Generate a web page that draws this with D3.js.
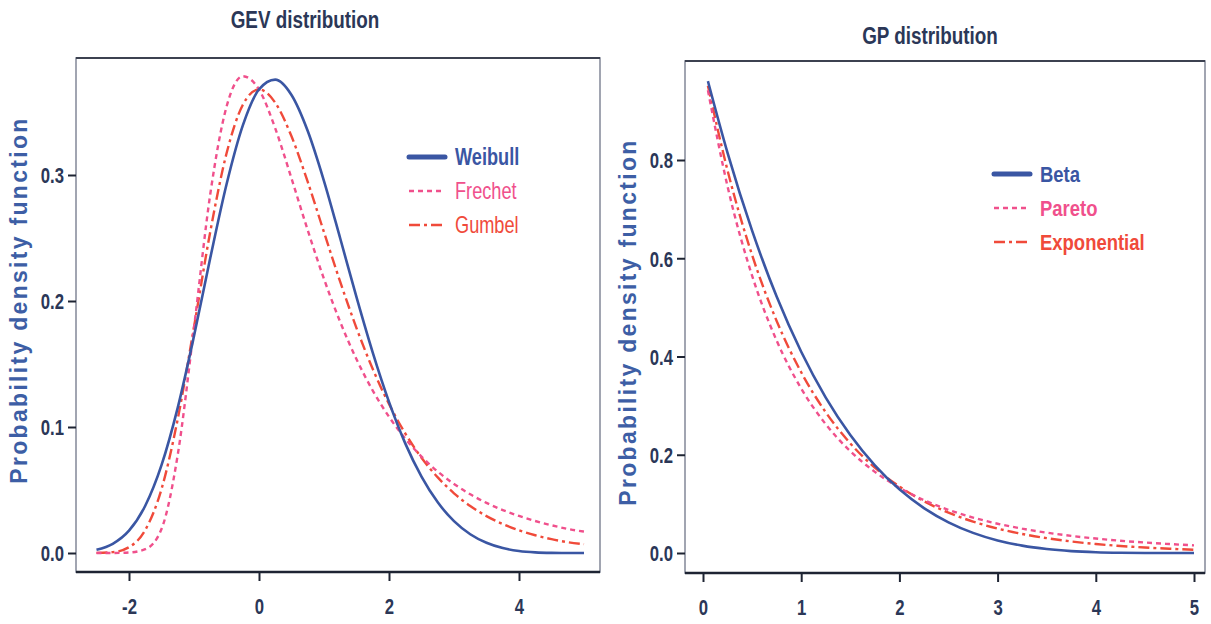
<!DOCTYPE html>
<html>
<head>
<meta charset="utf-8">
<script src="https://cdn.jsdelivr.net/npm/d3@7"></script>
<style>
  html, body { margin: 0; padding: 0; background: #ffffff; }
  svg { display: block; }
  text { font-family: "Liberation Sans", Arial, sans-serif; }
</style>
</head>
<body>
<svg id="chart" width="1211" height="624"></svg>
<script>
// ---- GEV densities (standardised), sampled on x = -2.5 .. 5 by 0.25 ----
const gevX = [-2.5, -2.25, -2, -1.75, -1.5, -1.25, -1, -0.75, -0.5, -0.25, 0, 0.25, 0.5, 0.75, 1,
              1.25, 1.5, 1.75, 2, 2.25, 2.5, 2.75, 3, 3.25, 3.5, 3.75, 4, 4.25, 4.5, 4.75, 5];
const weibull = [0.0026, 0.0073, 0.0177, 0.0375, 0.0697, 0.1154, 0.1722, 0.2341, 0.2925, 0.3392, 0.3679,
                 0.3757, 0.3635, 0.3349, 0.2952, 0.2496, 0.2030, 0.1590, 0.1199, 0.0870, 0.0606, 0.0402,
                 0.0253, 0.0149, 0.0081, 0.0039, 0.0016, 0.0005, 0.0001, 0.0000, 0.0000];
const frechet = [0.0000, 0.0000, 0.0004, 0.0030, 0.0190, 0.0780, 0.1787, 0.2847, 0.3541, 0.3784, 0.3679,
                 0.3370, 0.2973, 0.2561, 0.2175, 0.1833, 0.1538, 0.1289, 0.1081, 0.0908, 0.0765, 0.0646,
                 0.0548, 0.0466, 0.0398, 0.0341, 0.0294, 0.0254, 0.0220, 0.0191, 0.0170];
const gumbel = [0.0001, 0.0007, 0.0046, 0.0182, 0.0507, 0.1064, 0.1794, 0.2549, 0.3170, 0.3556, 0.3679,
                0.3574, 0.3307, 0.2945, 0.2546, 0.2151, 0.1785, 0.1460, 0.1182, 0.0949, 0.0756, 0.0600,
                0.0474, 0.0373, 0.0293, 0.0230, 0.0180, 0.0141, 0.0110, 0.0086, 0.0070];

// ---- GP densities, sampled on x = 0.05 .. 5 ----
const gpX = [0.05, 0.25, 0.5, 0.75, 1, 1.25, 1.5, 1.75, 2, 2.25, 2.5, 2.75, 3, 3.25, 3.5, 3.75, 4, 4.25, 4.5, 4.75, 5];
const beta = [0.9606, 0.8145, 0.6561, 0.5220, 0.4096, 0.3164, 0.2401, 0.1785, 0.1296, 0.0915, 0.0625,
              0.0410, 0.0256, 0.0150, 0.0081, 0.0039, 0.0016, 0.0005, 0.0001, 0.0000, 0.0000];
const pareto = [0.9420, 0.7462, 0.5645, 0.4323, 0.3349, 0.2621, 0.2072, 0.1652, 0.1328, 0.1076, 0.0878,
                0.0721, 0.0596, 0.0496, 0.0414, 0.0348, 0.0294, 0.0249, 0.0213, 0.0182, 0.0156];
const exponential = [0.9512, 0.7788, 0.6065, 0.4724, 0.3679, 0.2865, 0.2231, 0.1738, 0.1353, 0.1054, 0.0821,
                     0.0639, 0.0498, 0.0388, 0.0302, 0.0235, 0.0183, 0.0143, 0.0111, 0.0087, 0.0067];

// ---- axis ticks and labels ----
const gevXTicks = [-2, 0, 2, 4];
const gevYTicks = [0, 0.1, 0.2, 0.3];
const gpXTicks = [0, 1, 2, 3, 4, 5];
const gpYTicks = [0, 0.2, 0.4, 0.6, 0.8];
const gevTitle = "GEV distribution";
const gpTitle = "GP distribution";
const yLabel = "Probability density function";
const gevNames = ["Weibull", "Frechet", "Gumbel"];
const gpNames = ["Beta", "Pareto", "Exponential"];

const BLUE = "#3a56a3", PINK = "#f0508c", RED = "#f04a3a", NAVY = "#2b3757", AXIS_LABEL = "#3d5ea5";
const NARROW = 0.79; // horizontal squeeze for the condensed lettering

const styles = [
  { color: BLUE, width: 2.6, dash: null, legendWidth: 5, weight: "bold" },
  { color: PINK, width: 2.4, dash: "5,4", legendWidth: 2.4, weight: "normal" },
  { color: RED, width: 2.4, dash: "11,4,3,4", legendWidth: 2.4, weight: "normal" }
];

const svg = d3.select("#chart");

// condensed text: a translated group squeezed horizontally
function narrowText(parent, x, y, str, opts) {
  const g = parent.append("g")
    .attr("transform", `translate(${x},${y}) scale(${opts.sx || NARROW},1)`);
  return g.append("text")
    .attr("text-anchor", opts.anchor || "start")
    .attr("dy", opts.dy || 0)
    .attr("font-size", opts.size)
    .attr("font-weight", opts.weight || "bold")
    .attr("fill", opts.fill)
    .text(str);
}

function panel(cfg) {
  const g = svg.append("g");
  const x = d3.scaleLinear().domain(cfg.xDomain).range(cfg.xRange);
  const y = d3.scaleLinear().domain(cfg.yDomain).range(cfg.yRange);

  // plot frame
  g.append("rect")
    .attr("x", cfg.frame.left).attr("y", cfg.frame.top)
    .attr("width", cfg.frame.right - cfg.frame.left)
    .attr("height", cfg.frame.bottom - cfg.frame.top)
    .attr("fill", "none").attr("stroke", "#8a8f9e").attr("stroke-width", 1.6);
  g.append("line")
    .attr("x1", cfg.frame.left).attr("x2", cfg.frame.right)
    .attr("y1", cfg.frame.top).attr("y2", cfg.frame.top)
    .attr("stroke", "#3c4150").attr("stroke-width", 2);

  // x axis along the bottom of the frame
  const xAxis = d3.axisBottom(x).tickValues(cfg.xTicks).tickSize(9).tickSizeOuter(0);
  const gx = g.append("g").attr("transform", `translate(0,${cfg.frame.bottom})`).call(xAxis);
  gx.select(".domain").attr("d", `M${cfg.frame.left},0H${cfg.frame.right}`)
    .attr("stroke", "#1e2433").attr("stroke-width", 2.6);
  gx.selectAll(".tick line").attr("stroke", "#1e2433").attr("stroke-width", 2);
  gx.selectAll(".tick text").remove();
  gx.selectAll(".tick").each(function (d) {
    narrowText(d3.select(this), 0, 42, d < 0 ? "-" + Math.abs(d) : String(d),
      { size: 22, anchor: "middle", fill: NAVY, sx: 0.76 });
  });

  // y axis: ticks only, on the left side of the frame
  const yAxis = d3.axisLeft(y).tickValues(cfg.yTicks).tickSize(8).tickSizeOuter(0);
  const gy = g.append("g").attr("transform", `translate(${cfg.frame.left},0)`).call(yAxis);
  gy.select(".domain").remove();
  gy.selectAll(".tick line").attr("stroke", "#1e2433").attr("stroke-width", 2);
  gy.selectAll(".tick text").remove();
  const fmt = d3.format(".1f");
  gy.selectAll(".tick").each(function (d) {
    narrowText(d3.select(this), -12, 0, fmt(d),
      { size: 22, anchor: "end", dy: "0.36em", fill: NAVY, sx: 0.76 });
  });

  // title
  narrowText(g, cfg.title.x, cfg.title.y, cfg.title.text,
    { size: 23, anchor: "middle", fill: NAVY, sx: 0.82 });

  // y axis label
  g.append("text")
    .attr("transform", `translate(${cfg.ylab.x},${cfg.ylab.y}) rotate(-90)`)
    .attr("text-anchor", "middle")
    .attr("font-size", 23).attr("font-weight", "bold").attr("letter-spacing", 2.3)
    .attr("fill", AXIS_LABEL).text(yLabel);

  // density curves
  const line = d3.line().x(d => x(d[0])).y(d => y(d[1])).curve(d3.curveMonotoneX);
  [2, 1, 0].forEach(i => {
    const pts = cfg.xs.map((v, k) => [v, cfg.series[i][k]]);
    const s = styles[i];
    g.append("path").datum(pts)
      .attr("d", line)
      .attr("fill", "none").attr("stroke", s.color)
      .attr("stroke-width", s.width)
      .attr("stroke-dasharray", s.dash)
      .attr("stroke-linejoin", "round");
  });

  // legend
  cfg.names.forEach((name, i) => {
    const s = styles[i];
    const ly = cfg.legend.y + i * cfg.legend.step;
    g.append("line")
      .attr("x1", cfg.legend.x).attr("x2", cfg.legend.x + 36)
      .attr("y1", ly).attr("y2", ly)
      .attr("stroke", s.color).attr("stroke-width", s.legendWidth)
      .attr("stroke-dasharray", s.dash).attr("stroke-linecap", i === 0 ? "round" : "butt");
    narrowText(g, cfg.legend.x + 46, ly, name, {
      size: cfg.legend.size, dy: "0.36em", fill: s.color, sx: cfg.legend.sx,
      weight: cfg.legend.allBold ? "bold" : s.weight
    });
  });
}

panel({
  xDomain: [0, 2], xRange: [259, 389],
  yDomain: [0, 0.3], yRange: [553, 175],
  frame: { left: 76, right: 600, top: 58, bottom: 572 },
  xTicks: gevXTicks, yTicks: gevYTicks,
  title: { x: 305, y: 28, text: gevTitle },
  ylab: { x: 27, y: 300 },
  xs: gevX, series: [weibull, frechet, gumbel], names: gevNames,
  legend: { x: 409, y: 157, step: 34, allBold: false, size: 23, sx: 0.79 }
});

panel({
  xDomain: [0, 5], xRange: [703, 1194],
  yDomain: [0, 0.8], yRange: [553, 160],
  frame: { left: 685, right: 1205, top: 61, bottom: 573 },
  xTicks: gpXTicks, yTicks: gpYTicks,
  title: { x: 930, y: 44, text: gpTitle },
  ylab: { x: 636, y: 322 },
  xs: gpX, series: [beta, pareto, exponential], names: gpNames,
  legend: { x: 994, y: 174, step: 34, allBold: true, size: 22, sx: 0.84 }
});
</script>
</body>
</html>
